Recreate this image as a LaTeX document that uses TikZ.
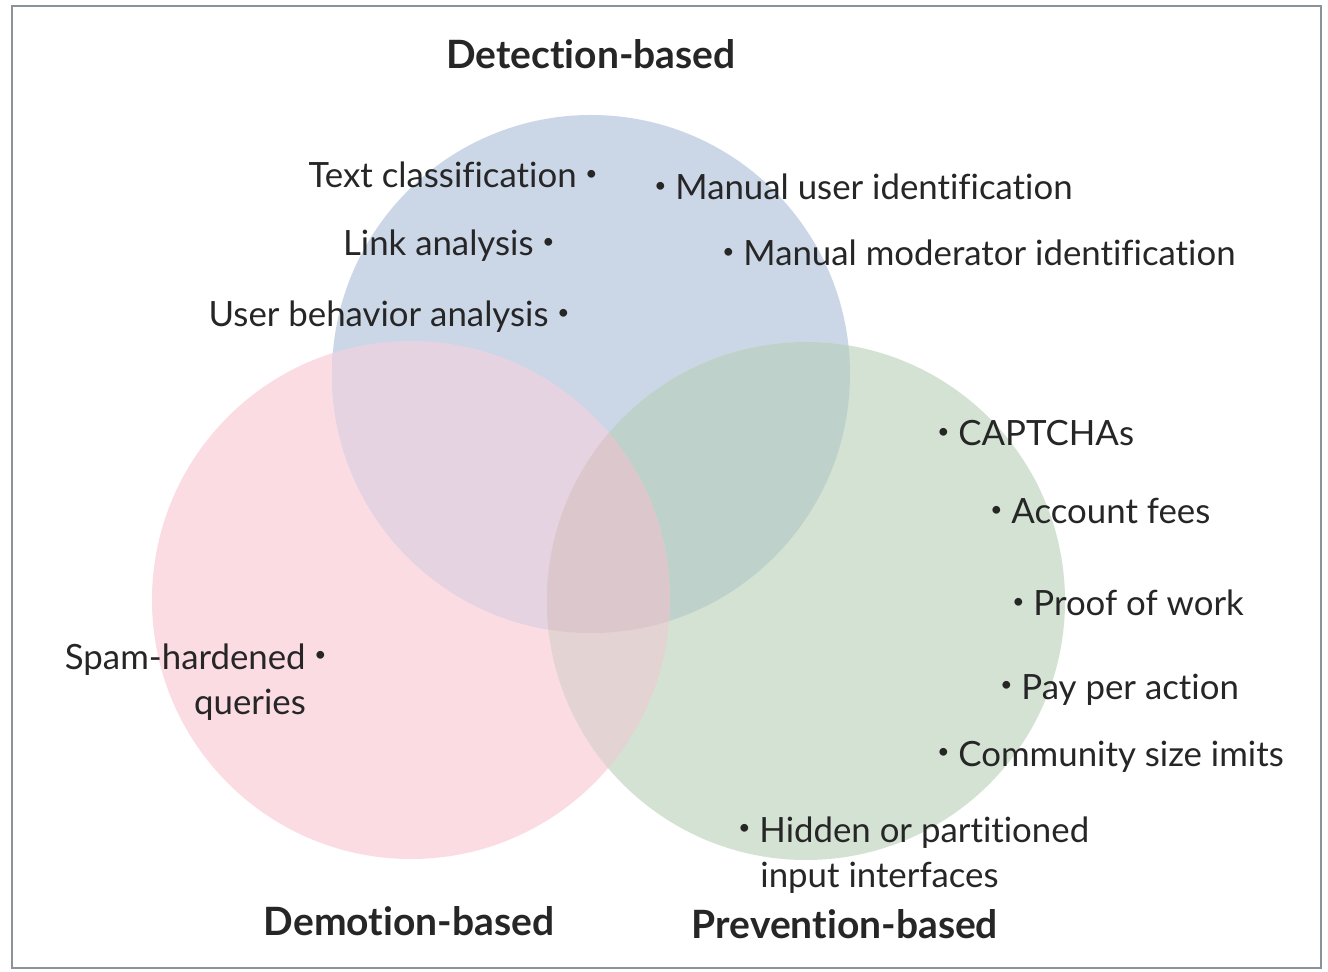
\documentclass[tikz,border=0pt]{standalone}
\usepackage{fontspec}
\setmainfont{Lato}[Ligatures=NoCommon]
\definecolor{cblue}{HTML}{CBD7E6}
\definecolor{cpink}{HTML}{FBDCE3}
\definecolor{cgreen}{HTML}{D4E2D4}
\definecolor{cbp}{HTML}{E5D3E2}
\definecolor{cbg}{HTML}{BED2CB}
\definecolor{cpg}{HTML}{E4D3D3}
\definecolor{cbpg}{HTML}{DCC8CC}
\definecolor{txt}{HTML}{262626}
\definecolor{frame}{HTML}{8A9399}
\newcommand{\bul}{\raisebox{0.4ex}{\scalebox{0.6}{\textbullet}}}
\begin{document}
\begin{tikzpicture}[x=0.5pt,y=-0.5pt,
  item/.style={inner sep=0pt,text=txt,font=\fontsize{17.4}{20}\selectfont},
  head/.style={inner sep=0pt,text=txt,font=\fontsize{19.5}{22}\selectfont\bfseries},
  frm/.style={draw=frame,line width=0.8pt}]
\useasboundingbox (0,0) rectangle (1328,972);
\fill[white] (0,0) rectangle (1328,972);
\def\rad{259}
\coordinate (B) at (591,374);
\coordinate (P) at (411,600);
\coordinate (G) at (806,601);
% base circles
\fill[cpink] (P) circle (\rad);
\fill[cblue] (B) circle (\rad);
\fill[cgreen] (G) circle (\rad);
\begin{scope}
  \clip (B) circle (\rad);
  \fill[cbp] (P) circle (\rad);
  \fill[cbg] (G) circle (\rad);
\end{scope}
\begin{scope}
  \clip (P) circle (\rad);
  \fill[cpg] (G) circle (\rad);
\end{scope}
\begin{scope}
  \clip (P) circle (\rad);
  \clip (B) circle (\rad);
  \fill[cbpg] (G) circle (\rad);
\end{scope}
\draw[frm] (12,6) rectangle (1321,968);
% headings
\node[head,anchor=base] (hdet) at (591,69) {Detection-based};
\node[head,anchor=base] (hdem) at (409,935) {Demotion-based};
\node[head,anchor=base] (hpre) at (845,938) {Prevention-based};
% detection items
\node[item,anchor=base east] (t1) at (598,188) {Text classification \bul};
\node[item,anchor=base west] (t2) at (654,200) {\bul\ Manual user identification};
\node[item,anchor=base east] (t3) at (555,256) {Link analysis \bul};
\node[item,anchor=base west] (t4) at (722,266) {\bul\ Manual moderator identification};
\node[item,anchor=base east] (t5) at (570,327) {User behavior analysis \bul};
% prevention items
\node[item,anchor=base west] (p1) at (937,446) {\bul\ CAPTCHAs};
\node[item,anchor=base west] (p2) at (990,524) {\bul\ Account fees};
\node[item,anchor=base west] (p3) at (1012,616) {\bul\ Proof of work};
\node[item,anchor=base west] (p4) at (1000,699) {\bul\ Pay per action};
\node[item,anchor=base west] (p5) at (937,766) {\bul\ Community size imits};
\node[item,anchor=base west] (p6) at (738,842) {\bul\ Hidden or partitioned};
\node[item,anchor=base west] (p7) at (760,887) {input interfaces};
% demotion items
\node[item,anchor=base east] (d1) at (327,669) {Spam-hardened \bul};
\node[item,anchor=base] (d2) at (250,714) {queries};
\end{tikzpicture}
\end{document}
